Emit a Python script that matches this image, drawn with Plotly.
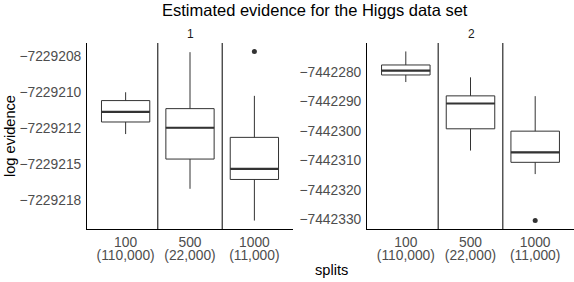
import plotly.graph_objects as go

categories = ["100", "500", "1000"]
category_rows = ["(110,000)", "(22,000)", "(11,000)"]
panels = ["1", "2"]

# panel 1 box statistics
p1_upper = [-7229210.01, -7229207.22, -7229210.26]
p1_q3 = [-7229210.59, -7229211.15, -7229213.15]
p1_median = [-7229211.38, -7229212.48, -7229215.34]
p1_q1 = [-7229212.08, -7229214.66, -7229216.08]
p1_lower = [-7229212.92, -7229216.73, -7229218.94]
p1_outlier_cat = [3]
p1_outlier_val = [-7229207.17]
p1_tickvals = [-7229207.5, -7229210, -7229212.5, -7229215, -7229217.5]
p1_ticktext = ["−7229208", "−7229210", "−7229212", "−7229215", "−7229218"]

# panel 2 box statistics
p2_upper = [-7442273.0, -7442281.8, -7442288.2]
p2_q3 = [-7442277.6, -7442288.1, -7442300.1]
p2_median = [-7442279.5, -7442290.7, -7442307.3]
p2_q1 = [-7442281.0, -7442299.3, -7442310.7]
p2_lower = [-7442283.4, -7442306.7, -7442314.7]
p2_outlier_cat = [3]
p2_outlier_val = [-7442330.5]
p2_tickvals = [-7442280, -7442290, -7442300, -7442310, -7442320, -7442330]
p2_ticktext = ["−7442280", "−7442290", "−7442300", "−7442310", "−7442320", "−7442330"]

W, H = 574, 282
FONT = "Liberation Sans, Arial, sans-serif"
TICKFONT = dict(family=FONT, size=13.8, color="#4d4d4d")
BOXW = 0.75
xpos = [1, 2, 3]

fig = go.Figure()

panel_data = [
    (p1_lower, p1_q1, p1_median, p1_q3, p1_upper, p1_outlier_cat, p1_outlier_val, p1_tickvals, p1_ticktext),
    (p2_lower, p2_q1, p2_median, p2_q3, p2_upper, p2_outlier_cat, p2_outlier_val, p2_tickvals, p2_ticktext),
]

layout_axes = {}
for i, (lo, q1, med, q3, up, oc, ov, tv, tt) in enumerate(panel_data):
    n = i + 1
    xa = "x" if n == 1 else f"x{n}"
    ya = "y" if n == 1 else f"y{n}"
    fig.add_trace(go.Box(
        x=xpos, q1=q1, median=med, q3=q3, lowerfence=lo, upperfence=up,
        width=BOXW, whiskerwidth=0, fillcolor="white",
        line=dict(color="#333333", width=1), boxpoints=False,
        xaxis=xa, yaxis=ya, showlegend=False, hoverinfo="skip"))
    mx, my = [], []
    for c, m in zip(xpos, med):
        mx += [c - BOXW / 2, c + BOXW / 2, None]
        my += [m, m, None]
    fig.add_trace(go.Scatter(x=mx, y=my, mode="lines", line=dict(color="#333333", width=2.2),
                             xaxis=xa, yaxis=ya, showlegend=False, hoverinfo="skip"))
    fig.add_trace(go.Scatter(x=oc, y=ov, mode="markers", marker=dict(color="#333333", size=5),
                             xaxis=xa, yaxis=ya, showlegend=False, hoverinfo="skip"))
    allv = lo + up + ov
    vmin, vmax = min(allv), max(allv)
    pad = (vmax - vmin) * 0.05
    dom = [87 / W, 293 / W] if n == 1 else [367 / W, 1]
    layout_axes["yaxis" if n == 1 else f"yaxis{n}"] = dict(
        domain=[0, 1], anchor=xa, range=[vmin - pad, vmax + pad], tickvals=tv, ticktext=tt,
        showgrid=False, zeroline=False, showline=True, linecolor="black", linewidth=1,
        ticks="", tickfont=TICKFONT, ticklabelstandoff=2)
    layout_axes["xaxis" if n == 1 else f"xaxis{n}"] = dict(
        domain=dom, anchor=ya, range=[0.4, 3.6], tickvals=xpos, ticktext=categories,
        showgrid=False, zeroline=False, showline=True, linecolor="black", linewidth=1,
        ticks="", tickfont=TICKFONT, ticklabelstandoff=0)
    # overlay axis carrying the second line of each category label
    ox = n + 2
    layout_axes[f"xaxis{ox}"] = dict(
        domain=dom, anchor=ya, overlaying=xa, side="bottom", range=[0.4, 3.6],
        tickvals=xpos, ticktext=category_rows, showgrid=False, zeroline=False,
        showline=False, ticks="", tickfont=TICKFONT, ticklabelstandoff=16)
    fig.add_trace(go.Scatter(x=[], y=[], xaxis=f"x{ox}", yaxis=ya, showlegend=False))
    for k in range(1, len(xpos)):
        fig.add_shape(type="line", xref=xa, yref=ya + " domain",
                      x0=k + 0.5, x1=k + 0.5, y0=0, y1=1, line=dict(color="black", width=1))

annotations = [
    dict(text="Estimated evidence for the Higgs data set", x=315 / W, y=1, xref="paper", yref="paper",
         xanchor="center", yanchor="middle", yshift=(43 - 10), showarrow=False,
         font=dict(family=FONT, size=16.5, color="black")),
    dict(text=panels[0], x=190 / W, y=1, xref="paper", yref="paper", xanchor="center", yanchor="middle",
         yshift=9, showarrow=False, font=dict(family=FONT, size=12, color="#1a1a1a")),
    dict(text=panels[1], x=471 / W, y=1, xref="paper", yref="paper", xanchor="center", yanchor="middle",
         yshift=9, showarrow=False, font=dict(family=FONT, size=12, color="#1a1a1a")),
    dict(text="splits", x=331 / W, y=0, xref="paper", yref="paper", xanchor="center", yanchor="middle",
         yshift=-41, showarrow=False, font=dict(family=FONT, size=14.6, color="black")),
    dict(text="log evidence", x=10 / W, y=0.5, xref="paper", yref="paper", xanchor="center", yanchor="middle",
         textangle=-90, showarrow=False, font=dict(family=FONT, size=14.6, color="black")),
]

fig.update_layout(width=W, height=H, margin=dict(l=0, r=0, t=43, b=53),
                  plot_bgcolor="white", paper_bgcolor="white", annotations=annotations,
                  showlegend=False, **layout_axes)

fig.write_html("out.html", config={"displayModeBar": False, "staticPlot": True},
               post_script="document.body.style.margin='0';document.body.style.overflow='hidden';")
